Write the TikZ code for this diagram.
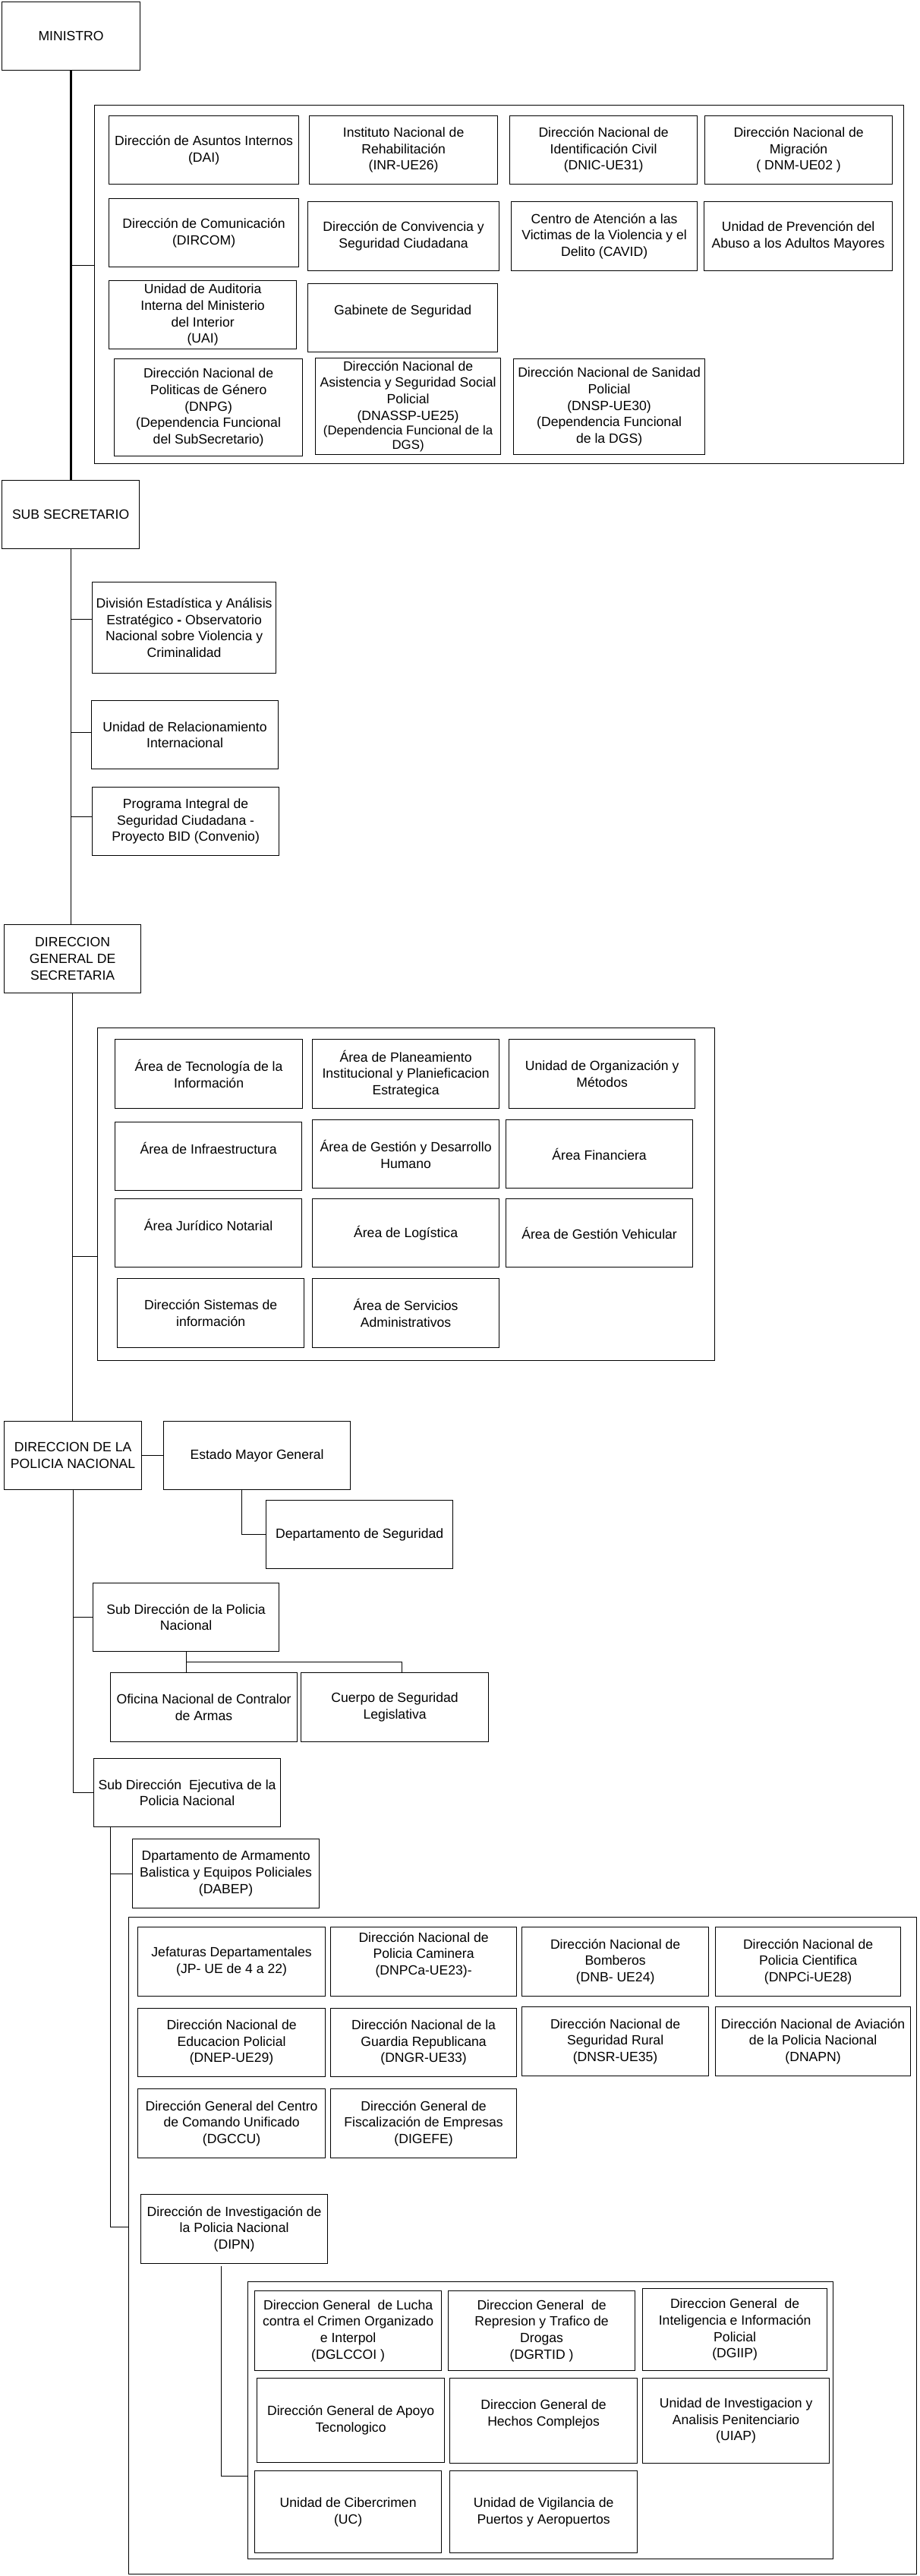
\documentclass[tikz,border=0pt]{standalone}
\usepackage{fontspec}
\setmainfont{Liberation Sans}

\tikzset{
  unidad/.style={draw, line width=0.6pt, anchor=north west, align=center,
    inner xsep=1pt, inner ysep=0pt, minimum width=123pt, minimum height=45pt,
    font=\fontsize{8.8}{10.85}\selectfont},
  grupo/.style={draw, line width=0.6pt, anchor=north west, inner sep=0pt},
  enlace/.style={line width=0.5pt},
  tronco/.style={line width=1.3pt},
}

\begin{document}
\begin{tikzpicture}[x=1pt,y=-1pt]
        \useasboundingbox (0,0) rectangle (605.5,1696);
        % ministro
        \node[unidad, minimum width=91pt] (min) at (1,1) {MINISTRO};
        \node[grupo, minimum width=533pt, minimum height=236pt] (gmin) at (62,69) {};
        \node[unidad, minimum width=125pt] (dai) at (71.5,76) {Dirección de Asuntos Internos\\(DAI)};
        \node[unidad, minimum width=124pt] (inr) at (203.5,76) {Instituto Nacional de\\Rehabilitación\\(INR-UE26)};
        \node[unidad, minimum width=123.5pt] (dnic) at (335.5,76) {Dirección Nacional de\\Identificación Civil\\(DNIC-UE31)};
        \node[unidad, minimum width=123.5pt] (dnm) at (464,76) {Dirección Nacional de\\Migración\\( DNM-UE02 )};
        \node[unidad, minimum width=125pt] (dircom) at (71.5,130.5) {Dirección de Comunicación\\(DIRCOM)};
        \node[unidad, minimum width=126pt, minimum height=45.5pt] (dcsc) at (202.5,132.5) {Dirección de Convivencia y\\Seguridad Ciudadana};
        \node[unidad, minimum width=122.5pt, minimum height=45.5pt] (cavid) at (336.5,132.5) {Centro de Atención a las\\Victimas de la Violencia y el\\Delito (CAVID)};
        \node[unidad, minimum width=124pt, minimum height=45.5pt] (upaam) at (463.5,132.5) {Unidad de Prevención del\\Abuso a los Adultos Mayores};
        \node[unidad, minimum width=123.5pt] (uai) at (71.5,184.5) {Unidad de Auditoria\\Interna del Ministerio\\del Interior\\(UAI)};
        \node[unidad, minimum width=125pt] (gab) at (202.5,186.5) {Gabinete de Seguridad\\ \mbox{}};
        \node[unidad, minimum width=124pt, minimum height=64pt] (dnpg) at (75,236) {Dirección Nacional de\\Politicas de Género\\(DNPG)\\(Dependencia Funcional\\del SubSecretario)};
        \node[unidad, minimum width=122pt, minimum height=63.5pt] (dnassp) at (207.5,235.5) {Dirección Nacional de\\Asistencia y Seguridad Social\\Policial\\(DNASSP-UE25)\\[-1pt]{\fontsize{8.4}{9.5}\selectfont (Dependencia Funcional de la}\\[-1.5pt]{\fontsize{8.4}{9.5}\selectfont DGS)}};
        \node[unidad, minimum width=126pt, minimum height=63pt] (dnsp) at (338,236) {Dirección Nacional de Sanidad\\Policial\\(DNSP-UE30)\\(Dependencia Funcional\\de la DGS)};
        \draw[enlace] (min.south |- 0,175) -- (gmin.west |- 0,175);
        % sub secretario
        \node[unidad, minimum width=90.5pt] (sub) at (1,316) {SUB SECRETARIO};
        \draw[tronco] (min.south) -- (min.south |- sub.north);
        \node[unidad, minimum width=121pt, minimum height=60pt] (deaeo) at (60.5,383) {División Estadística y Análisis\\Estratégico \textbf{-} Observatorio\\Nacional sobre Violencia y\\Criminalidad};
        \node[unidad] (uri) at (60,461) {Unidad de Relacionamiento\\Internacional};
        \node[unidad] (pisc) at (60.5,518) {Programa Integral de\\Seguridad Ciudadana -\\Proyecto BID (Convenio)};
        \draw[enlace] (sub.south |- 0,407.5) -- (deaeo.west |- 0,407.5);
        \draw[enlace] (sub.south |- 0,482) -- (uri.west |- 0,482);
        \draw[enlace] (sub.south |- 0,537.5) -- (pisc.west |- 0,537.5);
        % direccion general de secretaria
        \node[unidad, minimum width=90pt] (dgs) at (2.5,608.5) {DIRECCION\\GENERAL DE\\SECRETARIA};
        \draw[enlace] (sub.south) -- (sub.south |- dgs.north);
        \node[grupo, minimum width=406.5pt, minimum height=219pt] (gdgs) at (64,676.5) {};
        \node[unidad, minimum width=123.5pt, minimum height=45.5pt] (ati) at (75.5,684) {Área de Tecnología de la\\Información};
        \node[unidad, minimum height=45.5pt] (apipe) at (205.5,684) {Área de Planeamiento\\Institucional y Planieficacion\\Estrategica};
        \node[unidad, minimum width=122.5pt, minimum height=45.5pt] (uom) at (335,684) {Unidad de Organización y\\Métodos};
        \node[unidad] (ainf) at (75.5,738.5) {Área de Infraestructura\\ \mbox{}};
        \node[unidad] (agdh) at (205.5,737) {Área de Gestión y Desarrollo\\Humano};
        \node[unidad] (afin) at (333,737) {Área Financiera};
        \node[unidad] (ajn) at (75.5,789) {Área Jurídico Notarial\\ \mbox{}};
        \node[unidad] (alog) at (205.5,789) {Área de Logística};
        \node[unidad] (agv) at (333,789) {Área de Gestión Vehicular};
        \node[unidad, minimum height=45.5pt] (dsi) at (77,841.5) {Dirección Sistemas de\\información};
        \node[unidad, minimum height=45.5pt] (asa) at (205.5,841.5) {Área de Servicios\\Administrativos};
        \draw[enlace] (dgs.south |- 0,827) -- (gdgs.west |- 0,827);
        % direccion de la policia nacional
        \node[unidad, minimum width=90.5pt] (dpn) at (2.5,935.5) {DIRECCION DE LA\\POLICIA NACIONAL};
        \draw[enlace] (dgs.south) -- (dgs.south |- dpn.north);
        \node[unidad] (emg) at (107.5,935.5) {Estado Mayor General};
        \node[unidad] (dseg) at (175,987.5) {Departamento de Seguridad};
        \draw[enlace] (dpn) -- (emg);
        \draw[enlace] (emg.south -| 159,0) |- (dseg.west);
        \node[unidad, minimum width=122.5pt] (sdpn) at (61,1042) {Sub Dirección de la Policia\\Nacional};
        \node[unidad, minimum height=45.5pt] (oncda) at (72.5,1101) {Oficina Nacional de Contralor\\de Armas};
        \node[unidad, minimum width=123.5pt, minimum height=45.5pt] (csl) at (198,1101) {Cuerpo de Seguridad\\Legislativa};
        \draw[enlace] (sdpn.south) -- (sdpn.south |- oncda.north);
        \draw[enlace] (sdpn.south |- 0,1094) -| (csl.north -| 264.5,0);
        \node[unidad] (sdepn) at (61.5,1157.5) {Sub Dirección~ Ejecutiva de la\\Policia Nacional};
        \draw[enlace] (dpn.south) |- (sdepn.west);
        \draw[enlace] (dpn.south |- sdpn.west) -- (sdpn.west);
        \node[unidad, minimum height=45.5pt] (dabep) at (87,1210.5) {Dpartamento de Armamento\\Balistica y Equipos Policiales\\(DABEP)};
        \coordinate (sde1) at (sdepn.south -| 72.5,0);
        \draw[enlace] (sde1 |- dabep.west) -- (dabep.west);
        % dependencias de la sub direccion ejecutiva
        \node[grupo, minimum width=519pt, minimum height=432.5pt] (gsde) at (84.5,1262) {};
        \draw[enlace] (sde1) |- (gsde.west |- 0,1466);
        \node[unidad, minimum width=123.5pt, minimum height=45.5pt] (jp) at (90.5,1268.5) {Jefaturas Departamentales\\(JP- UE de 4 a 22)};
        \node[unidad, minimum width=122.5pt, minimum height=45.5pt] (dnpca) at (217.5,1268.5) {Dirección Nacional de\\Policia Caminera\\(DNPCa-UE23)-\\ \mbox{}};
        \node[unidad, minimum height=45.5pt] (dnb) at (343.5,1268.5) {Dirección Nacional de\\Bomberos\\(DNB- UE24)};
        \node[unidad, minimum width=122pt, minimum height=45.5pt] (dnpci) at (471,1268.5) {Dirección Nacional de\\Policia Cientifica\\(DNPCi-UE28)};
        \node[unidad, minimum width=123.5pt] (dnep) at (90.5,1322) {Dirección Nacional de\\Educacion Policial\\(DNEP-UE29)};
        \node[unidad, minimum width=122.5pt] (dngr) at (217.5,1322) {Dirección Nacional de la\\Guardia Republicana\\(DNGR-UE33)};
        \node[unidad, minimum height=45.5pt] (dnsr) at (343.5,1321) {Dirección Nacional de\\Seguridad Rural\\(DNSR-UE35)};
        \node[unidad, minimum width=128.5pt, minimum height=45.5pt] (dnapn) at (471,1321) {Dirección Nacional de Aviación\\de la Policia Nacional\\(DNAPN)};
        \node[unidad, minimum width=123.5pt, minimum height=45.5pt] (dgccu) at (90.5,1375) {Dirección General del Centro\\de Comando Unificado\\(DGCCU)};
        \node[unidad, minimum width=122.5pt, minimum height=45.5pt] (digefe) at (217.5,1375) {Dirección General de\\Fiscalización de Empresas\\(DIGEFE)};
        \node[unidad, minimum height=45.5pt] (dipn) at (92.5,1444.5) {Dirección de Investigación de\\la Policia Nacional\\(DIPN)};
        % dependencias de la dipn
        \node[grupo, minimum width=385.5pt, minimum height=182.5pt] (gdipn) at (163,1502) {};
        \coordinate (dipn1) at ([yshift=-1.5pt]dipn.south -| 145.5,0);
        \draw[enlace] (dipn1) |- (gdipn.west |- 0,1630);
        \node[unidad, minimum height=52.5pt] (dglccoi) at (167.5,1508) {Direccion General~ de Lucha\\contra el Crimen Organizado\\e Interpol\\(DGLCCOI )};
        \node[unidad, minimum height=52.5pt] (dgrtid) at (295,1508) {Direccion General~ de\\Represion y Trafico de\\Drogas\\(DGRTID )};
        \node[unidad, minimum width=121.5pt, minimum height=54pt] (dgiip) at (423,1506.5) {Direccion General~ de\\Inteligencia e Información\\Policial\\(DGIIP)};
        \node[unidad, minimum width=123.5pt, minimum height=55.5pt] (dgat) at (169,1565.5) {Dirección General de Apoyo\\Tecnologico};
        \node[unidad, minimum width=123.5pt, minimum height=56pt] (dghc) at (296,1565.5) {Direccion General de\\Hechos Complejos\\ \mbox{}};
        \node[unidad, minimum height=56pt] (uiap) at (423,1565.5) {Unidad de Investigacion y\\Analisis Penitenciario\\(UIAP)};
        \node[unidad, minimum height=54pt] (uc) at (167.5,1626.5) {Unidad de Cibercrimen\\(UC)};
        \node[unidad, minimum width=123.5pt, minimum height=54pt] (uvpa) at (296,1626.5) {Unidad de Vigilancia de\\Puertos y Aeropuertos};
\end{tikzpicture}
\end{document}
